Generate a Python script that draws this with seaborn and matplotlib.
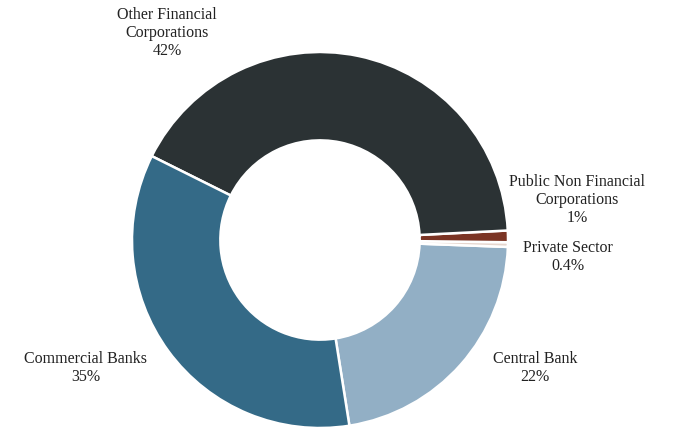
import matplotlib
matplotlib.use("Agg")
import matplotlib.pyplot as plt
import seaborn as sns

sns.set_theme(style="white")
plt.rcParams["font.family"] = ["Liberation Serif", "DejaVu Serif"]

# 슬라이스 순서: 반시계 방향, 아래쪽에서 시작
sectors = ["Central Bank", "Private Sector", "Public Non Financial\nCorporations",
           "Other Financial\nCorporations", "Commercial Banks"]
shares = [22, 0.4, 1, 42, 35]
pct_labels = ["22%", "0.4%", "1%", "42%", "35%"]
colors = ["#92afc5", "#e6d6ce", "#7b3424", "#2b3234", "#346a87"]

# 라벨 위치 (데이터 좌표, 반지름 = 1)
label_pos = [(1.144, -0.681), (1.319, -0.090), (1.367, 0.213),
             (-0.814, 1.101), (-1.245, -0.681)]

fig = plt.figure(figsize=(6.79, 4.30), dpi=100)
ax = fig.add_axes([0, 0, 1, 1])

ax.pie(shares, colors=colors, startangle=-81, counterclock=True,
       wedgeprops=dict(width=0.47, edgecolor="white", linewidth=1.8))

for name, pct, (x, y) in zip(sectors, pct_labels, label_pos):
    ax.text(x, y, name + "\n" + pct, ha="center", va="center",
            fontsize=11.5, color="#222222", linespacing=1.15)

ax.set_xlim(-320 / 188, 359 / 188)
ax.set_ylim(-190 / 188, 240 / 188)
ax.set_aspect("auto")
ax.axis("off")

fig.savefig("out.png", dpi=100, facecolor="white")
